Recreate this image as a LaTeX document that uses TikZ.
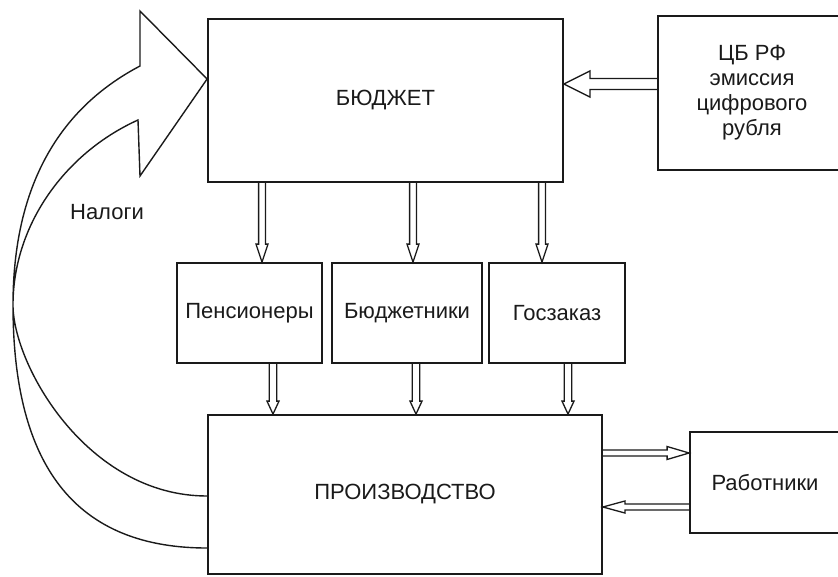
\documentclass[tikz,border=0pt]{standalone}
\usepackage{fontspec}
\setmainfont{Liberation Sans}
\usepackage{tikz}
\usetikzlibrary{calc}
\definecolor{inkblack}{HTML}{1A1A1A}
\tikzset{
  unit/.style={
    draw=inkblack,
    line width=1.8pt,
    inner sep=0pt,
    align=center,
    text=inkblack,
    font=\fontsize{22}{25}\selectfont
  },
  hollow/.style n args={3}{
    to path={
      ($(\tikztotarget)!#2!(\tikztostart)$) coordinate (hb)
      ($(\tikztostart)!#1!90:(\tikztotarget)$) -- ($(hb)!#1!-90:(\tikztostart)$)
      -- ($(hb)!#3!-90:(\tikztostart)$) -- (\tikztotarget)
      -- ($(hb)!#3!90:(\tikztostart)$) -- ($(hb)!#1!90:(\tikztostart)$)
      -- ($(\tikztostart)!#1!-90:(\tikztotarget)$)
    }
  },
  flowarrow/.style={
    draw=inkblack,
    line width=1.3pt,
    line join=miter
  },
  taxarrow/.style={
    draw=inkblack,
    line width=1.4pt,
    line join=miter
  }
}

\begin{document}
\begin{tikzpicture}[x=1pt, y=-1pt]
  \useasboundingbox (0,0) rectangle (838,576);
  \clip (0,0) rectangle (838,576);

  \node[unit, minimum width=355pt, minimum height=163pt] (budget) at (385.5,100.5) {БЮДЖЕТ};
  \node[unit, minimum width=188pt, minimum height=154pt] (cbrf) at (752,93) {ЦБ РФ\\эмиссия\\цифрового\\рубля};
  \node[unit, minimum width=145pt, minimum height=100pt] (pens) at (249.5,313) {Пенсионеры};
  \node[unit, minimum width=150pt, minimum height=100pt] (budg) at (407,313) {Бюджетники};
  \node[unit, minimum width=136pt, minimum height=100pt] (gos) at (557,313) {Госзаказ};
  \node[unit, minimum width=394pt, minimum height=159pt] (prod) at (405,494.5) {ПРОИЗВОДСТВО};
  \node[unit, minimum width=150pt, minimum height=101pt] (rab) at (765,482.5) {Работники};
  \node[unit, draw=none] (taxes) at (107,212) {Налоги};

  \coordinate (taxtip) at ([yshift=21.5pt]budget.west);

  \draw[flowarrow, hollow={5.5pt}{26pt}{13pt}] ([yshift=16.5pt]budget.east -| cbrf.west) to ([yshift=16.5pt]budget.east);

  \draw[flowarrow, hollow={3.4pt}{18pt}{6pt}] ([xshift=12.5pt]pens.north |- budget.south) to ([xshift=12.5pt]pens.north);
  \draw[flowarrow, hollow={3.4pt}{18pt}{6pt}] ([xshift=6pt]budg.north |- budget.south) to ([xshift=6pt]budg.north);
  \draw[flowarrow, hollow={3.4pt}{18pt}{6pt}] ([xshift=-15pt]gos.north |- budget.south) to ([xshift=-15pt]gos.north);

  \draw[flowarrow, hollow={3.7pt}{13pt}{6pt}] ([xshift=23.5pt]pens.south) to ([xshift=23.5pt]pens.south |- prod.north);
  \draw[flowarrow, hollow={3.7pt}{13pt}{6pt}] ([xshift=9pt]budg.south) to ([xshift=9pt]budg.south |- prod.north);
  \draw[flowarrow, hollow={3.7pt}{13pt}{6pt}] ([xshift=11pt]gos.south) to ([xshift=11pt]gos.south |- prod.north);

  \draw[flowarrow, hollow={3pt}{22pt}{6.5pt}] ([yshift=41.5pt]prod.east) to ([yshift=41.5pt]prod.east -| rab.west);
  \draw[flowarrow, hollow={3pt}{22pt}{6pt}] ([yshift=-12.5pt]prod.east -| rab.west) to ([yshift=-12.5pt]prod.east);

  \draw[taxarrow] ([yshift=-53.5pt]prod.west)
    .. controls (67,548) and (13,455) .. (13,305)
    .. controls (13,185) and (60,108) .. (140,66)
    -- (140,11) -- (taxtip) -- (140,176) -- (138,120)
    .. controls (65,153) and (13,225) .. (13,305)
    .. controls (13,365) and (87,496) .. ([yshift=-1.5pt]prod.west);
\end{tikzpicture}
\end{document}
